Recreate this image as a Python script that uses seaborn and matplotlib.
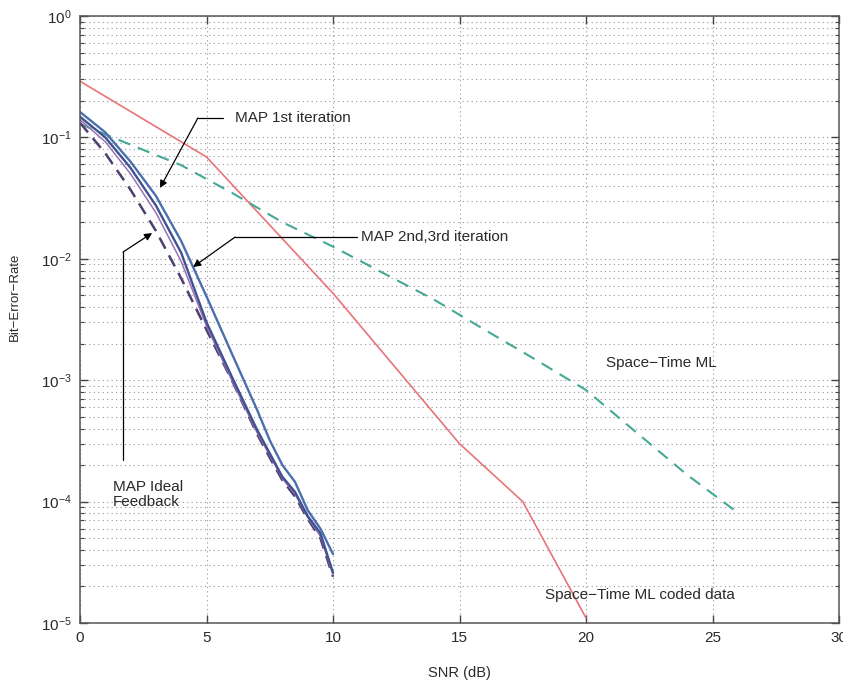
import matplotlib
matplotlib.use("Agg")
import matplotlib.pyplot as plt
import matplotlib.ticker as mticker
import numpy as np
import pandas as pd
import seaborn as sns

# ---------------- data ----------------
snr_map = [0, 1, 2, 3, 4, 5, 6, 7, 7.5, 8, 8.5, 9, 9.5, 10]
ber_map_1st = [0.162, 0.11, 0.063, 0.033, 0.014, 4.9e-3, 1.66e-3, 5.7e-4,
               3.2e-4, 2.0e-4, 1.45e-4, 8.5e-5, 6.0e-5, 3.7e-5]
ber_map_2nd = [0.148, 0.10, 0.056, 0.0275, 0.0112, 3.0e-3, 1.07e-3, 3.9e-4,
               2.5e-4, 1.6e-4, 1.2e-4, 7.6e-5, 5.5e-5, 2.6e-5]
ber_map_3rd = [0.14, 0.092, 0.05, 0.024, 9.5e-3, 2.8e-3, 1.0e-3, 3.7e-4,
               2.4e-4, 1.55e-4, 1.15e-4, 7.4e-5, 5.2e-5, 2.5e-5]
ber_map_ideal = [0.132, 0.074, 0.037, 0.017, 6.9e-3, 2.6e-3, 1.0e-3, 3.6e-4,
                 2.3e-4, 1.5e-4, 1.1e-4, 7.2e-5, 5.0e-5, 2.4e-5]

snr_st_coded = [0, 5, 10, 15, 17.5, 20]
ber_st_coded = [0.29, 0.069, 5.2e-3, 3.0e-4, 1.0e-4, 1.1e-5]

snr_st_ml = [0, 2, 4, 6, 8, 10, 12, 14, 16, 18, 20, 22, 24, 26]
ber_st_ml = [0.129, 0.087, 0.059, 0.035, 0.020, 0.0126, 7.6e-3, 4.6e-3,
             2.6e-3, 1.48e-3, 8.3e-4, 3.7e-4, 1.66e-4, 8.1e-5]

x_ticks = [0, 5, 10, 15, 20, 25, 30]
x_label = "SNR (dB)"
y_label = "Bit\u2212Error\u2212Rate"

# ---------------- style ----------------
sns.set_style("ticks")
plt.rcParams["font.family"] = ["Liberation Sans", "DejaVu Sans"]
plt.rcParams["mathtext.fontset"] = "custom"
plt.rcParams["mathtext.rm"] = "Liberation Sans"
plt.rcParams["mathtext.it"] = "Liberation Sans:italic"
plt.rcParams["mathtext.bf"] = "Liberation Sans:bold"
plt.rcParams["axes.unicode_minus"] = True

text_col = "#2a2a2a"

fig = plt.figure(figsize=(8.43, 6.82), dpi=100)
ax = fig.add_axes([80 / 843, (682 - 623) / 682, 759 / 843, 607 / 682])

# ---------------- curves ----------------
sns.lineplot(x=snr_st_coded, y=ber_st_coded, ax=ax, color="#e87478", lw=1.2,
             estimator=None, sort=False)
sns.lineplot(x=snr_st_ml, y=ber_st_ml, ax=ax, color="#45a896", lw=1.5,
             estimator=None, sort=False, linestyle=(0, (6, 4)))
sns.lineplot(x=snr_map, y=ber_map_ideal, ax=ax, color="#4d3f6e", lw=1.8,
             estimator=None, sort=False, linestyle=(0, (5, 3)))
sns.lineplot(x=snr_map, y=ber_map_3rd, ax=ax, color="#9b6fb5", lw=1.1,
             estimator=None, sort=False)
sns.lineplot(x=snr_map, y=ber_map_2nd, ax=ax, color="#3f5290", lw=1.7,
             estimator=None, sort=False)
sns.lineplot(x=snr_map, y=ber_map_1st, ax=ax, color="#4a6fae", lw=1.7,
             estimator=None, sort=False)

# ---------------- axes ----------------
ax.set_yscale("log")
ax.set_xlim(0, 30)
ax.set_ylim(1e-5, 1)
ax.set_xticks(x_ticks)
ax.set_xticklabels([str(t) for t in x_ticks])
ax.yaxis.set_major_locator(mticker.LogLocator(base=10, numticks=10))
ax.yaxis.set_minor_locator(mticker.LogLocator(base=10, subs=np.arange(2, 10), numticks=20))
ax.yaxis.set_major_formatter(mticker.LogFormatterMathtext())
ax.yaxis.set_minor_formatter(mticker.NullFormatter())

grid_style = dict(color="#959595", linestyle=(0, (1, 3)), linewidth=0.8)
ax.grid(True, which="major", axis="both", **grid_style)
ax.grid(True, which="minor", axis="y", **grid_style)
ax.set_axisbelow(True)

ax.tick_params(which="both", direction="in", top=True, right=True,
               colors="#444444", labelcolor=text_col, labelsize=11)
ax.tick_params(which="major", length=6, width=1.0)
ax.tick_params(which="minor", length=3, width=0.8)
ax.tick_params(axis="x", pad=6)
ax.tick_params(axis="y", pad=6)
for s in ax.spines.values():
    s.set_color("#555555")
    s.set_linewidth(1.1)
    s.set_visible(True)

ax.set_xlabel(x_label, fontsize=10.5, color=text_col)
ax.set_ylabel(y_label, fontsize=9.5, color=text_col)
ax.xaxis.set_label_coords(0.5, -0.071)
ax.yaxis.set_label_coords(-0.078, 0.537)

# ---------------- annotations ----------------
arrow = dict(arrowstyle="-|>", color="black", lw=0.9, mutation_scale=11,
             shrinkA=0, shrinkB=0)
line_kw = dict(color="black", lw=0.9)
fs = 11

# MAP 1st iteration
ax.text(6.13, 0.1445, "MAP 1st iteration", fontsize=fs, color=text_col,
        ha="left", va="center")
ax.plot([5.65, 4.66], [0.1445, 0.1445], **line_kw)
ax.annotate("", xy=(3.16, 0.0383), xytext=(4.66, 0.1445), arrowprops=arrow)

# MAP 2nd,3rd iteration
ax.text(11.1, 0.0151, "MAP 2nd,3rd iteration", fontsize=fs, color=text_col,
        ha="left", va="center")
ax.plot([10.95, 6.13], [0.0151, 0.0151], **line_kw)
ax.annotate("", xy=(4.47, 8.56e-3), xytext=(6.13, 0.0151), arrowprops=arrow)

# MAP Ideal Feedback
ax.text(1.3, 1.15e-4, "MAP Ideal\nFeedback", fontsize=fs, color=text_col,
        ha="left", va="center", linespacing=1.05)
ax.plot([1.70, 1.70], [2.2e-4, 0.01137], **line_kw)
ax.annotate("", xy=(2.85, 0.0163), xytext=(1.70, 0.01137), arrowprops=arrow)

# Space-Time labels
ax.text(20.8, 1.39e-3, "Space\u2212Time ML", fontsize=fs, color=text_col,
        ha="left", va="center")
ax.text(18.38, 1.7e-5, "Space\u2212Time ML coded data", fontsize=fs,
        color=text_col, ha="left", va="center")

fig.savefig("out.png", dpi=100)
